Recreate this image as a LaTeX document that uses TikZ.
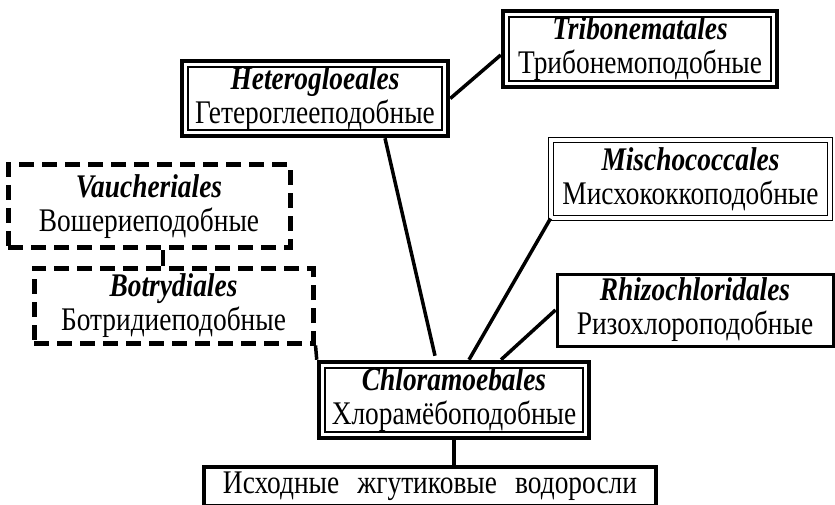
\documentclass[tikz,border=0pt]{standalone}
\usepackage{fontspec}
\setmainfont{Liberation Serif}[FakeStretch=0.83]
\tikzset{
	taxon/.style={align=center, inner sep=0pt, font=\fontsize{33}{34}\selectfont},
	boldframe/.style={taxon, draw, line width=4.5pt,
		path picture={\draw[line width=1.2pt]
			([shift={(6pt,6pt)}]path picture bounding box.south west) rectangle
			([shift={(-6pt,-6pt)}]path picture bounding box.north east);}},
	thinframe/.style={taxon, draw, double, line width=1.1pt, double distance=3.5pt},
	plainframe/.style={taxon, draw, line width=3pt},
	dashframe/.style={taxon, draw, line width=5pt, dash pattern=on 15pt off 8pt},
	link/.style={line width=3.5pt}
}
\begin{document}
\begin{tikzpicture}[x=1pt, y=1pt, line join=miter]
	\useasboundingbox (0,0) rectangle (835,504);
	
	\node[boldframe, minimum width=274pt, minimum height=76pt] (trib) at (640,455)
		{\textbf{\textit{Tribonematales}}\\Трибонемоподобные};
	\node[boldframe, minimum width=266pt, minimum height=75pt] (het) at (315,405.5)
		{\textbf{\textit{Heterogloeales}}\\Гетероглееподобные};
	\node[thinframe, minimum width=279pt, minimum height=78pt] (misch) at (690.5,325)
		{\textbf{\textit{Mischococcales}}\\Мисхококкоподобные};
	\node[plainframe, minimum width=276pt, minimum height=72pt] (rhizo) at (695,194)
		{\textbf{\textit{Rhizochloridales}}\\Ризохлороподобные};
	\node[boldframe, minimum width=270pt, minimum height=76pt] (chlor) at (454,104)
		{\textbf{\textit{Chloramoebales}}\\Хлорамёбоподобные};
	\node[plainframe, line width=4pt, minimum width=452pt, minimum height=39pt] (base) at (430,17.5)
		{Исходные\hspace{0.55em}жгутиковые\hspace{0.55em}водоросли};
	\node[dashframe, minimum width=282pt, minimum height=83pt] (vauch) at (149,297.5)
		{\textbf{\textit{Vaucheriales}}\\Вошериеподобные};
	\node[dashframe, minimum width=279pt, minimum height=75pt] (botr) at (173.5,198.5)
		{\textbf{\textit{Botrydiales}}\\Ботридиеподобные};
	
	% end points on the edges of the boxes
	\coordinate (h1) at ([xshift=70pt]het.south);
	\coordinate (c1) at ([xshift=-19pt,yshift=4pt]chlor.north);
	\coordinate (c2) at ([xshift=15pt]chlor.north);
	\coordinate (c3) at ([xshift=47pt]chlor.north);
	\coordinate (v1) at ([xshift=14pt]vauch.south);
	
	\draw[link] (het.east) -- ([yshift=-6pt]trib.west);
	\draw[link] (h1) -- (c1);
	\draw[link] (misch.south west) -- (c2);
	\draw[link] (rhizo.west) -- (c3);
	\draw[link] (botr.south east) -- (chlor.north west);
	\draw[link] (v1) -- (v1 |- botr.north);
	\draw[link] (chlor.south) -- (chlor.south |- base.north);
\end{tikzpicture}
\end{document}
